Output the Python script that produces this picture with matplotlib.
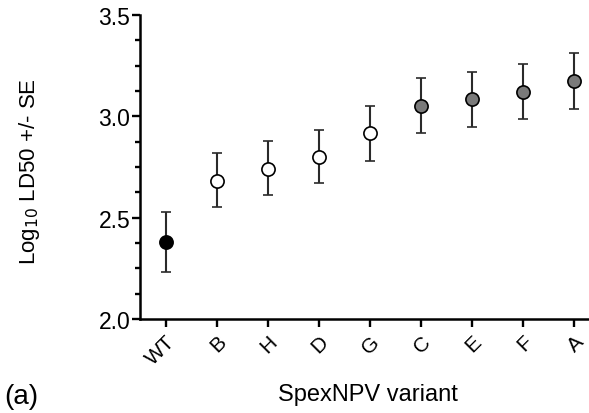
import matplotlib
matplotlib.use("Agg")
import matplotlib.pyplot as plt
from matplotlib.ticker import MultipleLocator

plt.rcParams['font.family'] = ['Liberation Sans', 'DejaVu Sans']

# Data
variants = ["WT", "B", "H", "D", "G", "C", "E", "F", "A"]
log_ld50 = [2.378, 2.682, 2.743, 2.80, 2.916, 3.052, 3.086, 3.123, 3.173]
se_upper = [0.152, 0.136, 0.134, 0.133, 0.134, 0.136, 0.131, 0.135, 0.138]
se_lower = [0.148, 0.131, 0.131, 0.130, 0.136, 0.135, 0.137, 0.136, 0.138]
fills = ["black", "white", "white", "white", "white", "#7a7a7a", "#7a7a7a", "#7a7a7a", "#7a7a7a"]

fig = plt.figure(figsize=(5.89, 4.14), dpi=100)
ax = fig.add_axes([0.238, 0.227, 0.775, 0.734])

for i, (v, lo, hi, fc) in enumerate(zip(log_ld50, se_lower, se_upper, fills)):
    ax.errorbar(i, v, yerr=[[lo], [hi]], fmt='o', color='#222222', ecolor='#2a2a2a',
                elinewidth=1.5, capsize=3.8, capthick=1.5, markersize=9.5,
                markerfacecolor=fc, markeredgecolor='black', markeredgewidth=1.2)

ax.set_xlim(-0.5, 8.45)
ax.set_ylim(2.0, 3.5)
ax.set_xticks(range(len(variants)))
ax.set_xticklabels(variants, rotation=45, ha='right', rotation_mode='anchor', fontsize=15)
ax.yaxis.set_major_locator(MultipleLocator(0.5))
ax.yaxis.set_minor_locator(MultipleLocator(0.125))
ax.yaxis.set_major_formatter(plt.FormatStrFormatter('%.1f'))
ax.tick_params(axis='y', which='major', labelsize=16.5, length=6, width=1.7, pad=1)
ax.tick_params(axis='y', which='minor', length=3.5, width=1.7)
ax.tick_params(axis='x', which='major', length=6, width=1.7, pad=3)

for s in ['top', 'right']:
    ax.spines[s].set_visible(False)
for s in ['left', 'bottom']:
    ax.spines[s].set_linewidth(1.8)

ax.set_ylabel(r"Log$_{10}$ LD50 +/- SE", fontsize=16)
ax.yaxis.set_label_coords(-0.215, 0.49)
ax.set_xlabel("SpexNPV variant", fontsize=17, labelpad=11)
fig.text(0.008, 0.025, "(a)", fontsize=20)

fig.savefig("out.png", dpi=100)
